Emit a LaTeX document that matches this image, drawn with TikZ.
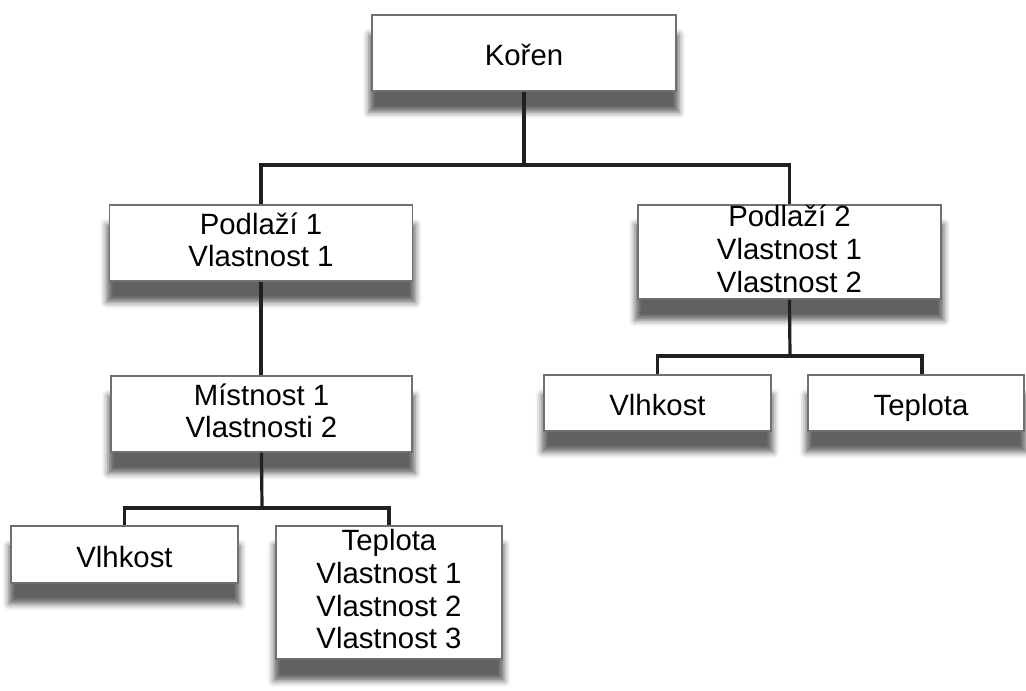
\documentclass[tikz,border=0pt]{standalone}
\usepackage{fontspec}
\setmainfont{Liberation Sans}
\usetikzlibrary{shadows.blur}
\definecolor{boxedge}{HTML}{707070}
\definecolor{wire}{HTML}{231F20}
\tikzset{
  unit/.style={draw=boxedge, line width=0.8pt, fill=white, align=center,
    inner sep=0pt, font=\fontsize{22}{24.5}\selectfont,
    execute at begin node={\rule{0pt}{24pt}},
    execute at end node={\rule[-5pt]{0pt}{5pt}},
    blur shadow={shadow xshift=0pt, shadow yshift=-15pt, shadow scale=1.02,
      shadow blur radius=4.5pt, shadow opacity=62}},
  wirestyle/.style={draw=wire, line width=2.4pt}
}
\begin{document}
\begin{tikzpicture}[x=0.75pt,y=-0.75pt]
\useasboundingbox (0,0) rectangle (1026,690);

% junction points of the branches
\coordinate (j0) at (524,165);
\coordinate (j1) at (262,508);
\coordinate (j2) at (790,356);

\node[unit, minimum width=304*0.75pt, minimum height=76*0.75pt] (koren) at (524,53) {Kořen};
\node[unit, minimum width=303*0.75pt, minimum height=76*0.75pt] (p1) at (261,243) {Podlaží 1\\Vlastnost 1};
\node[unit, minimum width=303*0.75pt, minimum height=94*0.75pt] (p2) at (789.5,252) {Podlaží 2\\Vlastnost 1\\Vlastnost 2};
\node[unit, minimum width=301*0.75pt, minimum height=76*0.75pt] (m1) at (261.5,414) {Místnost 1\\Vlastnosti 2};
\node[unit, minimum width=227*0.75pt, minimum height=57*0.75pt] (v1) at (124.5,554.5) {Vlhkost};
\node[unit, minimum width=226*0.75pt, minimum height=133*0.75pt] (t1) at (389,592.5) {Teplota\\Vlastnost 1\\Vlastnost 2\\Vlastnost 3};
\node[unit, minimum width=227*0.75pt, minimum height=56*0.75pt] (v2) at (657.5,403) {Vlhkost};
\node[unit, minimum width=216*0.75pt, minimum height=56*0.75pt] (t2) at (916,403) {\hspace*{7.5pt}Teplota};

\draw[wirestyle] (koren.south) -- (j0);
\draw[wirestyle] (p1.north) |- (j0) -| (p2.north);
\draw[wirestyle] (p1.south) -- (p1.south |- m1.north);
\draw[wirestyle] (m1.south) -- (j1);
\draw[wirestyle] (v1.north) |- (j1) -| (t1.north);
\draw[wirestyle] (p2.south) -- (j2);
\draw[wirestyle] (v2.north) |- (j2) -| ([xshift=4.5pt]t2.north);
\end{tikzpicture}
\end{document}
